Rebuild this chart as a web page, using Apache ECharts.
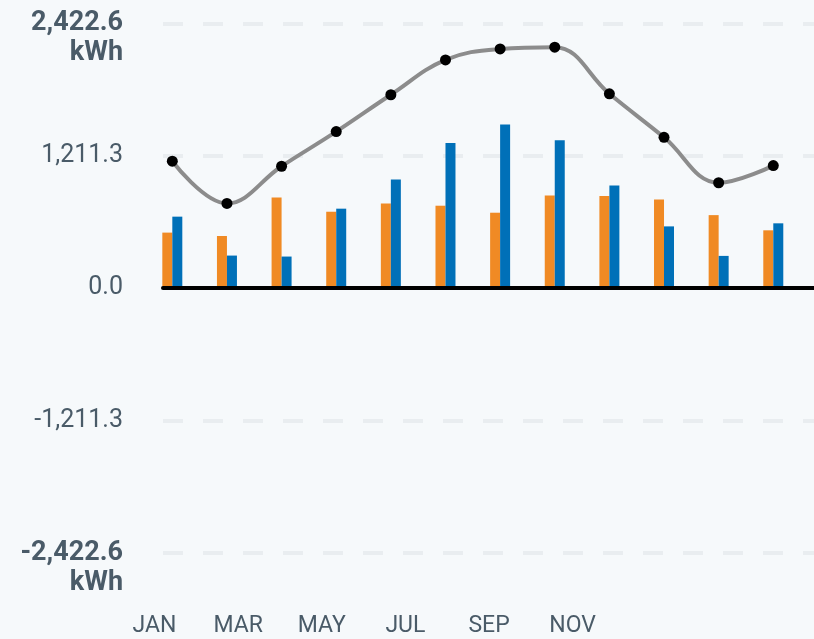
<!DOCTYPE html>
<html>
<head>
<meta charset="utf-8">
<script src="https://cdn.jsdelivr.net/npm/echarts@6/dist/echarts.min.js"></script>
<style>
  html, body { margin: 0; padding: 0; background: #f6f9fb; }
  #chart { width: 814px; height: 639px; }
</style>
</head>
<body>
<div id="chart"></div>
<script>
// 月份与数据
const months = ['JAN', 'FEB', 'MAR', 'APR', 'MAY', 'JUN', 'JUL', 'AUG', 'SEP', 'OCT', 'NOV', 'DEC']
const orangeVals = [508, 477, 830, 699, 775, 754, 690, 848, 842, 812, 668, 529]
const blueVals = [654, 298, 289, 727, 994, 1328, 1498, 1352, 939, 565, 295, 593]
const totalVals = [1161, 775, 1115, 1432, 1769, 2088, 2188, 2204, 1778, 1380, 964, 1121]
const yTicks = [-2422.6, -1211.3, 0, 1211.3, 2422.6]
const yTickLabels = ['-2,422.6', '-1,211.3', '0.0', '1,211.3', '2,422.6']
const unit = 'kWh'

const labelColor = '#4a5b68'
const yMin = yTicks[0]
const yMax = yTicks[yTicks.length - 1]
const yStep = yTicks[1] - yTicks[0]

const myChart = echarts.init(document.getElementById('chart'))

function yLabel (v) {
  let idx = 0
  yTicks.forEach((t, i) => { if (Math.abs(t - v) < Math.abs(yTicks[idx] - v)) idx = i })
  const txt = yTickLabels[idx]
  if (idx === 0 || idx === yTicks.length - 1) {
    return '{e| }\n{b|' + txt + '}\n{b|' + unit + '}'
  }
  return txt
}

myChart.setOption({
  backgroundColor: '#f6f9fb',
  textStyle: { fontFamily: 'Roboto' },
  grid: [
    // 轴线与网格
    { left: 163, right: 0, top: 23.3, bottom: 86, outerBoundsMode: 'none' },
    // 柱子与折线
    { left: 145, right: 13.4, top: 23.3, bottom: 86, outerBoundsMode: 'none' },
    // 月份标签
    { left: 154.5, right: 199.5, top: 590, bottom: 29, outerBoundsMode: 'none' }
  ],
  xAxis: [
    {
      gridIndex: 0, type: 'value', min: 0, max: 1, z: 5,
      axisLine: { show: true, onZero: true, lineStyle: { color: '#000', width: 4 } },
      axisTick: { show: false }, axisLabel: { show: false }, splitLine: { show: false }
    },
    { gridIndex: 1, type: 'category', data: months, show: false },
    {
      gridIndex: 2, type: 'category', data: months, boundaryGap: false,
      axisLine: { show: false }, axisTick: { show: false }, splitLine: { show: false },
      axisLabel: { interval: 1, margin: 5, color: labelColor, fontSize: 23, fontFamily: 'Roboto' }
    }
  ],
  yAxis: [
    {
      gridIndex: 0, type: 'value', min: yMin, max: yMax, interval: yStep,
      axisLine: { show: false }, axisTick: { show: false },
      splitLine: { show: true, lineStyle: { color: '#e9edf0', width: 4, type: [20, 20] } },
      axisLabel: {
        margin: 40, color: labelColor, fontSize: 25, formatter: yLabel,
        rich: {
          e: { fontSize: 25, lineHeight: 30 },
          b: { fontSize: 27, fontWeight: 'bold', lineHeight: 30, color: labelColor, align: 'right' }
        }
      }
    },
    { gridIndex: 1, type: 'value', min: yMin, max: yMax, interval: yStep, show: false, splitLine: { show: false } },
    { gridIndex: 2, type: 'value', show: false, splitLine: { show: false } }
  ],
  series: [
    {
      type: 'bar', xAxisIndex: 1, yAxisIndex: 1, data: orangeVals,
      barWidth: 10, barGap: '0%', itemStyle: { color: '#f08a24' }
    },
    {
      type: 'bar', xAxisIndex: 1, yAxisIndex: 1, data: blueVals,
      barWidth: 10, barGap: '0%', itemStyle: { color: '#0070b8' }
    },
    {
      type: 'line', xAxisIndex: 1, yAxisIndex: 1, data: totalVals, smooth: 0.4,
      symbol: 'circle', symbolSize: 11,
      lineStyle: { color: '#8c8c8c', width: 4 },
      itemStyle: { color: '#000' }
    }
  ]
})
</script>
</body>
</html>
